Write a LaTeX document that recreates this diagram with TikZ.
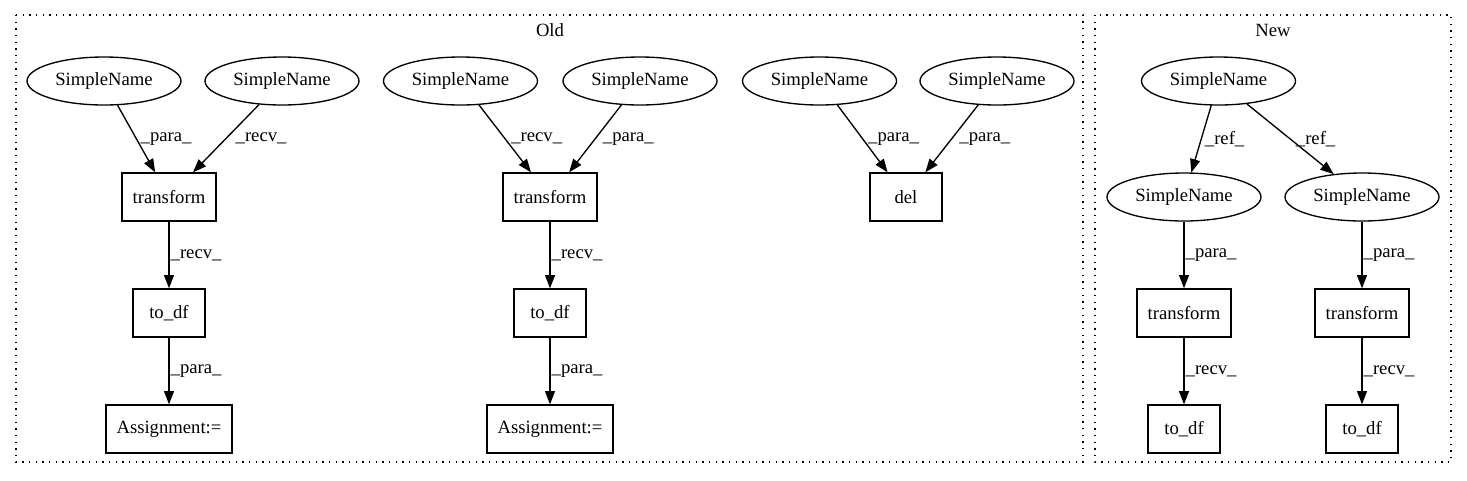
\documentclass[tikz,border=0pt]{standalone}
\usepackage{fontspec}
\setmainfont{Liberation Serif}
\usepackage{tikz}
\usetikzlibrary{shapes.geometric, arrows.meta, positioning}
\newcommand{\graphfont}{\fontsize{14pt}{16pt}\selectfont}
\tikzstyle{simplename} = [ellipse, draw=black, line width=1pt, minimum width=115.5pt, minimum height=36pt, inner sep=0pt, font=\graphfont]
\tikzstyle{call} = [rectangle, draw=black, line width=1pt, minimum width=54pt, minimum height=36pt, inner xsep=8pt, text centered, font=\graphfont]
\tikzstyle{edgelabel} = [anchor=west, inner sep=0pt, xshift=0.75pt, font=\graphfont]
\tikzstyle{arrow} = [line width=1pt, -{Triangle[length=10pt,width=7.5pt]}]
\tikzstyle{cluster} = [draw=black, line width=1pt, dash pattern=on 1pt off 4pt]

\begin{document}
\begin{tikzpicture}[x=0.75pt, y=-0.75pt, node distance=87pt]
        \useasboundingbox (0,0) rectangle (1467,480);

        % Clusters
        \draw [cluster] (16,15) rectangle (1083,462);
        \draw [cluster] (1095,15) rectangle (1451,462);
        \node (oldtitle) [font=\graphfont] at (550,30) {Old};
        \node (newtitle) [font=\graphfont] at (1273,30) {New};

        % Old: first chain
        \node (sn1) [simplename] at (104,81) {SimpleName};
        \node (sn2) [simplename] at (282,81) {SimpleName};
        \node (tf1) [call] at (169,197) {transform};
        \node (df1) [call, below of=tf1] {to\_df};
        \node (as1) [call, below of=df1] {Assignment:=};

        % Old: second chain
        \node (sn3) [simplename] at (460.5,81) {SimpleName};
        \node (sn4) [simplename] at (640,81) {SimpleName};
        \node (tf2) [call] at (550,197) {transform};
        \node (df2) [call, below of=tf2] {to\_df};
        \node (as2) [call, below of=df2] {Assignment:=};

        % Old: del
        \node (sn5) [simplename] at (819.5,81) {SimpleName};
        \node (sn6) [simplename] at (997,81) {SimpleName};
        \node (del) [call] at (906,197) {del};

        % New
        \node (sn7) [simplename] at (1218.5,81) {SimpleName};
        \node (sn8) [simplename] at (1184,197) {SimpleName};
        \node (sn9) [simplename] at (1362,197) {SimpleName};
        \node (tf3) [call, below of=sn8] {transform};
        \node (tf4) [call, below of=sn9] {transform};
        \node (df3) [call, below of=tf3] {to\_df};
        \node (df4) [call, below of=tf4] {to\_df};

        % Arrows
        \draw [arrow] (sn1) -- node [edgelabel, xshift=2pt] {\_para\_} (tf1);
        \draw [arrow] (sn2) -- node [edgelabel, xshift=6pt] {\_recv\_} (tf1);
        \draw [arrow] (tf1) -- node [edgelabel] {\_recv\_} (df1);
        \draw [arrow] (df1) -- node [edgelabel] {\_para\_} (as1);

        \draw [arrow] (sn3) -- node [edgelabel, xshift=3.5pt] {\_recv\_} (tf2);
        \draw [arrow] (sn4) -- node [edgelabel, xshift=4.5pt] {\_para\_} (tf2);
        \draw [arrow] (tf2) -- node [edgelabel] {\_recv\_} (df2);
        \draw [arrow] (df2) -- node [edgelabel] {\_para\_} (as2);

        \draw [arrow] (sn5) -- node [edgelabel, xshift=3pt] {\_para\_} (del);
        \draw [arrow] (sn6) -- node [edgelabel, xshift=4.5pt] {\_para\_} (del);

        \draw [arrow] (sn7) -- node [edgelabel, xshift=1.5pt] {\_ref\_} (sn8);
        \draw [arrow] (sn7) -- node [edgelabel, xshift=3pt] {\_ref\_} (sn9);
        \draw [arrow] (sn8) -- node [edgelabel] {\_para\_} (tf3);
        \draw [arrow] (sn9) -- node [edgelabel] {\_para\_} (tf4);
        \draw [arrow] (tf3) -- node [edgelabel] {\_recv\_} (df3);
        \draw [arrow] (tf4) -- node [edgelabel] {\_recv\_} (df4);
    \end{tikzpicture}
\end{document}
